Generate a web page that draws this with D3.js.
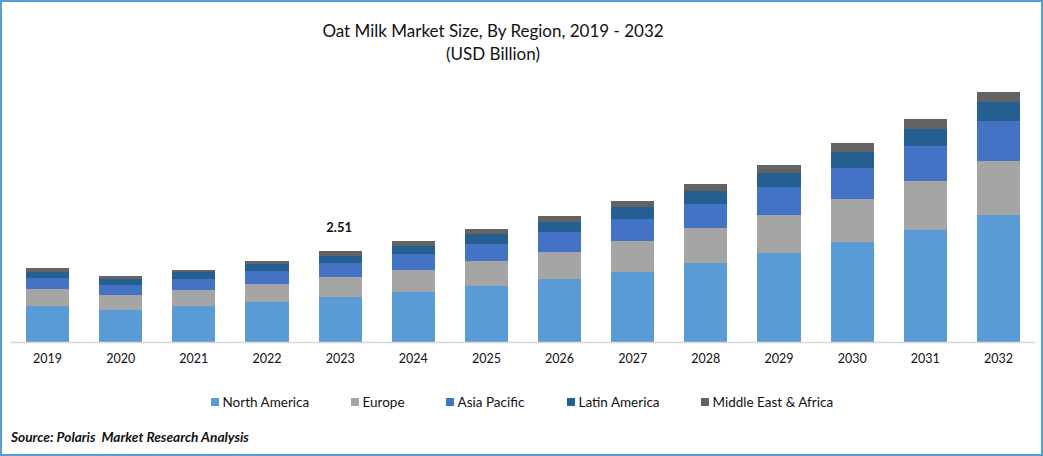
<!DOCTYPE html>
<html lang="en">
  <head>
    <title>Oat Milk Market Size, By Region</title>
    <meta charset="UTF-8" />
    <style>
      html,
      body {
        margin: 0;
        background: #fff;
      }
      svg {
        display: block;
      }
      text {
        font-family: Lato, "Open Sans", sans-serif;
        fill: #111;
      }
      .axis path {
        stroke: #d9d9d9;
        stroke-width: 1.5;
      }
      .axis line {
        display: none;
      }
      .layer rect {
        shape-rendering: crispEdges;
      }
    </style>
  </head>
  <body>
    <svg id="chart" width="1043" height="456"></svg>
    <script src="https://cdn.jsdelivr.net/npm/d3@7"></script>
    <script>
      const years = ['2019', '2020', '2021', '2022', '2023', '2024', '2025', '2026', '2027', '2028', '2029', '2030', '2031', '2032'];
      const regions = ['North America', 'Europe', 'Asia Pacific', 'Latin America', 'Middle East & Africa'];
      const colors = ['#5b9bd5', '#a5a5a5', '#4472c4', '#255e91', '#636363'];
      const northAmerica = [0.99, 0.88, 0.99, 1.10, 1.24, 1.38, 1.54, 1.74, 1.93, 2.18, 2.46, 2.76, 3.09, 3.50];
      const europe = [0.47, 0.41, 0.44, 0.50, 0.55, 0.61, 0.69, 0.74, 0.86, 0.97, 1.05, 1.19, 1.35, 1.49];
      const asiaPacific = [0.30, 0.28, 0.30, 0.36, 0.39, 0.44, 0.47, 0.55, 0.61, 0.66, 0.77, 0.86, 0.97, 1.10];
      const latinAmerica = [0.17, 0.17, 0.19, 0.19, 0.19, 0.22, 0.28, 0.28, 0.33, 0.36, 0.39, 0.44, 0.47, 0.52];
      const middleEast = [0.11, 0.08, 0.08, 0.08, 0.14, 0.14, 0.14, 0.17, 0.17, 0.19, 0.22, 0.25, 0.28, 0.30];
      const labelledYear = '2023';
      const labelledValue = '2.51';

      const svg = d3.select('#chart');
      const width = 1043,
        height = 456;

      const series = [northAmerica, europe, asiaPacific, latinAmerica, middleEast];
      const rows = years.map((year, i) => {
        const row = { year };
        regions.forEach((r, j) => {
          row[r] = series[j][i];
        });
        return row;
      });
      const stacked = d3.stack().keys(regions)(rows);

      const x = d3.scaleBand().domain(years).range([11, 1035]).paddingInner(0.412).paddingOuter(0.206);
      const y = d3.scaleLinear().domain([0, 7]).range([342, 88.25]);

      // frame
      svg
        .append('rect')
        .attr('x', 1)
        .attr('y', 1)
        .attr('width', width - 2)
        .attr('height', height - 2)
        .attr('fill', '#fff')
        .attr('stroke', '#5b9bd5')
        .attr('stroke-width', 2);

      svg
        .append('text')
        .attr('x', 493)
        .attr('y', 37)
        .attr('text-anchor', 'middle')
        .attr('font-size', 17)
        .text('Oat Milk Market Size, By Region, 2019 - 2032');
      svg
        .append('text')
        .attr('x', 493)
        .attr('y', 60)
        .attr('text-anchor', 'middle')
        .attr('font-size', 17)
        .text('(USD Billion)');

      svg
        .selectAll('g.layer')
        .data(stacked)
        .enter()
        .append('g')
        .attr('class', 'layer')
        .attr('fill', (d, i) => colors[i])
        .selectAll('rect')
        .data(d => d)
        .enter()
        .append('rect')
        .attr('x', d => x(d.data.year))
        .attr('width', x.bandwidth())
        .attr('y', d => y(d[1]))
        .attr('height', d => y(d[0]) - y(d[1]));

      const axis = svg
        .append('g')
        .attr('class', 'axis')
        .attr('transform', `translate(0,${y(0)})`)
        .call(d3.axisBottom(x).tickSize(0).tickPadding(12));
      axis.select('.domain').attr('d', 'M10,0.5H1035');
      axis.selectAll('text').attr('font-size', 12.5).attr('font-family', 'Lato').attr('fill', '#111');

      // total label above the one annotated bar
      svg
        .append('text')
        .attr('x', x(labelledYear) + x.bandwidth() / 2 - 1)
        .attr('y', 232)
        .attr('text-anchor', 'middle')
        .attr('font-size', 13)
        .attr('font-weight', 700)
        .text(labelledValue);

      // legend
      const legendX = [211, 351, 446, 567, 701];
      const legend = svg
        .selectAll('g.legend')
        .data(regions)
        .enter()
        .append('g')
        .attr('class', 'legend')
        .attr('transform', (d, i) => `translate(${legendX[i]},398)`);
      legend
        .append('rect')
        .attr('width', 8)
        .attr('height', 8)
        .attr('fill', (d, i) => colors[i]);
      legend
        .append('text')
        .attr('x', 11.5)
        .attr('y', 9)
        .attr('font-size', 13.5)
        .text(d => d);

      svg
        .append('text')
        .attr('x', 11)
        .attr('y', 442)
        .attr('font-size', 13.7)
        .attr('font-weight', 700)
        .attr('font-style', 'italic')
        .style('white-space', 'pre')
        .text('Source: Polaris  Market Research Analysis');
    </script>
  </body>
</html>
